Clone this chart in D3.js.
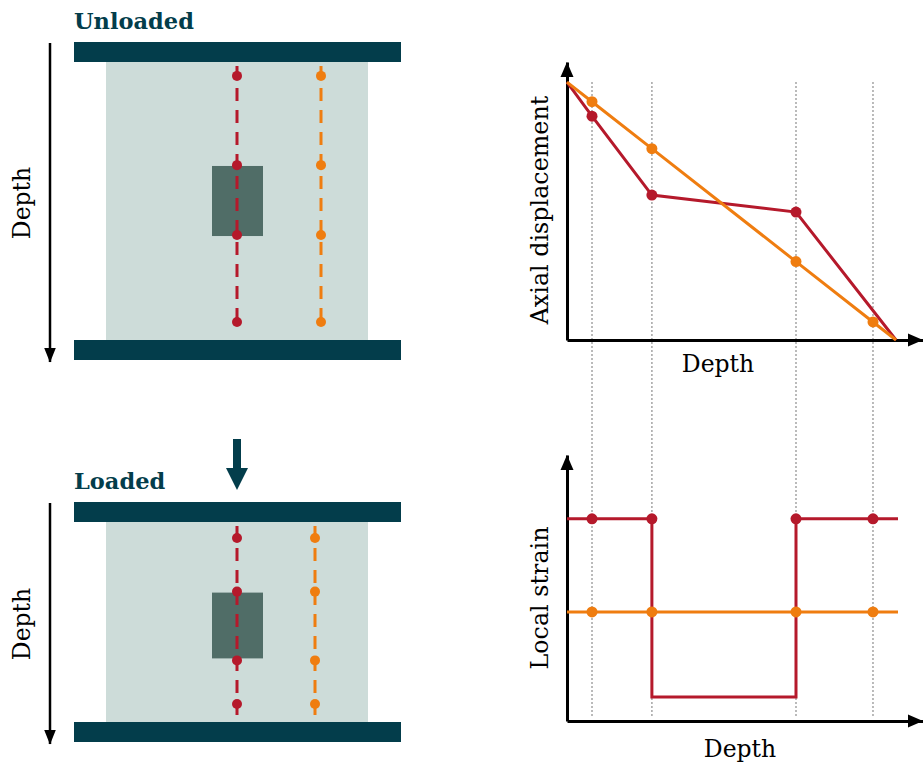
<!DOCTYPE html>
<html>
<head>
<meta charset="utf-8">
<script src="https://cdn.jsdelivr.net/npm/d3@7"></script>
<style>
  body { margin: 0; background: #fff; }
  svg { display: block; }
  text { font-family: "DejaVu Serif", serif; }
</style>
</head>
<body>
<svg id="fig" width="923" height="766"></svg>
<script>
// sensor positions as fraction of sample height (left diagrams)
var unloadedSensors = [0.050, 0.371, 0.622, 0.935];
var loadedSensors = [0.080, 0.348, 0.692, 0.910];
var unloadedInclusion = [0.374, 0.626];
var loadedInclusion = [0.353, 0.682];

// chart data (depth on x, 0-100 = top to bottom of sample)
var sensorDepth = [7.6, 25.8, 69.6, 93];
var redDispDepth = [0, 7.6, 25.8, 69.6, 100];
var redDisp = [100, 86.8, 56.2, 49.6, 0];
var redDispDots = [1, 2, 3]; // indexes with markers
var orangeDispDepth = [0, 7.6, 25.8, 69.6, 93, 100];
var orangeDisp = [100, 92.4, 74.2, 30.4, 7, 0];

var redStrainDepth = [0, 25.8, 25.8, 69.6, 69.6, 100.6];
var redStrain = [76, 76, 9, 9, 76, 76];
var orangeStrainDepth = [0, 100.6];
var orangeStrain = [41, 41];
var redStrainAtSensor = [76, 76, 76, 76];
var orangeStrainAtSensor = [41, 41, 41, 41];

var RED = "#b5192b", ORANGE = "#ef7d10", TEAL = "#033d4b",
    SAMPLE = "#cddcd9", INCL = "#506d67", GRID = "#aaaaaa";

var svg = d3.select("#fig");

var defs = svg.append("defs");
function addMarker(id, color, w, h) {
  defs.append("marker")
    .attr("id", id)
    .attr("viewBox", `0 0 ${w} ${h}`)
    .attr("markerUnits", "userSpaceOnUse")
    .attr("markerWidth", w).attr("markerHeight", h)
    .attr("refX", w - 0.5).attr("refY", h / 2)
    .attr("orient", "auto")
    .append("path")
    .attr("d", `M0,0L${w},${h / 2}L0,${h}Z`)
    .attr("fill", color);
}
addMarker("arrowK", "#000", 15, 12);

// ---------- specimen diagrams ----------
function drawSpecimen(cfg) {
  var g = svg.append("g");
  var plateTop = cfg.top, plateH = 20;
  var s0 = plateTop + plateH, s1 = s0 + cfg.sampleH;
  var ys = d3.scaleLinear().domain([0, 1]).range([s0, s1]);

  g.append("rect").attr("x", 106).attr("y", s0).attr("width", 262).attr("height", cfg.sampleH)
    .attr("fill", SAMPLE);
  g.append("rect").attr("x", 212).attr("y", ys(cfg.incl[0]))
    .attr("width", 51).attr("height", ys(cfg.incl[1]) - ys(cfg.incl[0]))
    .attr("fill", INCL);

  [[237, RED], [cfg.orangeX, ORANGE]].forEach(function(p) {
    g.append("line").attr("x1", p[0]).attr("x2", p[0])
      .attr("y1", s0).attr("y2", ys(cfg.lineEnd))
      .attr("stroke", p[1]).attr("stroke-width", 3)
      .attr("stroke-dasharray", "13,9").attr("stroke-dashoffset", -4);
    g.selectAll(null).data(cfg.sensors).enter().append("circle")
      .attr("cx", p[0]).attr("cy", d => ys(d)).attr("r", 5)
      .attr("fill", p[1]);
  });

  g.append("rect").attr("x", 74).attr("y", plateTop).attr("width", 327).attr("height", plateH)
    .attr("fill", TEAL);
  g.append("rect").attr("x", 74).attr("y", s1).attr("width", 327).attr("height", plateH)
    .attr("fill", TEAL);

  // depth arrow
  g.append("line").attr("x1", 50).attr("x2", 50)
    .attr("y1", plateTop + 1).attr("y2", s1 + plateH + 2)
    .attr("stroke", "#000").attr("stroke-width", 2.5)
    .attr("marker-end", "url(#arrowK)");
  g.append("text")
    .attr("transform", `translate(30,${(plateTop + s1 + plateH) / 2 + 2}) rotate(-90)`)
    .attr("text-anchor", "middle").attr("font-size", 23.5)
    .text("Depth");

  g.append("text").attr("x", 74).attr("y", plateTop - 13)
    .attr("font-size", 22.5).attr("font-weight", "bold").attr("fill", TEAL)
    .text(cfg.title);
}

drawSpecimen({top: 42, sampleH: 278, sensors: unloadedSensors, incl: unloadedInclusion,
  orangeX: 321, lineEnd: 0.957, title: "Unloaded"});
drawSpecimen({top: 502, sampleH: 200, sensors: loadedSensors, incl: loadedInclusion,
  orangeX: 315, lineEnd: 0.985, title: "Loaded"});

// load arrow
svg.append("rect").attr("x", 233).attr("y", 439).attr("width", 8).attr("height", 31).attr("fill", TEAL);
svg.append("path").attr("d", "M226,468L248,468L237,490Z").attr("fill", TEAL);

// ---------- charts ----------
var x = d3.scaleLinear().domain([0, 108.2]).range([567, 923]);
var yDisp = d3.scaleLinear().domain([0, 107.8]).range([340, 62]);
var yStrain = d3.scaleLinear().domain([0, 100]).range([721, 455]);

// dotted guides through both charts
svg.append("g").selectAll("line").data(sensorDepth).enter().append("line")
  .attr("x1", d => x(d)).attr("x2", d => x(d))
  .attr("y1", 82).attr("y2", 718)
  .attr("stroke", GRID).attr("stroke-width", 1.6).attr("stroke-dasharray", "2,2");

function drawAxes(y, xy) {
  var gx = svg.append("g").attr("transform", `translate(0,${xy})`)
    .call(d3.axisBottom(x).ticks(0).tickSize(0).tickSizeOuter(0));
  var gy = svg.append("g").attr("transform", "translate(567,0)")
    .call(d3.axisLeft(y).ticks(0).tickSize(0).tickSizeOuter(0));
  [gx, gy].forEach(function(g) {
    g.select(".domain").attr("stroke", "#000").attr("stroke-width", 3);
  });
  // arrow heads at the far ends
  var xr = x.range(), yr = y.range();
  svg.append("path").attr("d", `M${xr[1]},${xy}L${xr[1] - 15},${xy - 6.5}L${xr[1] - 15},${xy + 6.5}Z`);
  svg.append("path").attr("d", `M567,${yr[1]}L${567 - 6.5},${yr[1] + 15}L${567 + 6.5},${yr[1] + 15}Z`);
}
drawAxes(yDisp, 340);
drawAxes(yStrain, 721);

function series(depths, vals, y, color) {
  var pts = depths.map((d, i) => [x(d), y(vals[i])]);
  svg.append("path").attr("d", d3.line()(pts))
    .attr("fill", "none").attr("stroke", color).attr("stroke-width", 3)
    .attr("stroke-linejoin", "miter");
}
function dots(depths, vals, y, color) {
  svg.append("g").selectAll("circle").data(depths).enter().append("circle")
    .attr("cx", d => x(d)).attr("cy", (d, i) => y(vals[i])).attr("r", 5.5)
    .attr("fill", color);
}

// displacement
series(redDispDepth, redDisp, yDisp, RED);
series(orangeDispDepth, orangeDisp, yDisp, ORANGE);
dots(redDispDots.map(i => redDispDepth[i]), redDispDots.map(i => redDisp[i]), yDisp, RED);
dots(orangeDispDepth.slice(1, 5), orangeDisp.slice(1, 5), yDisp, ORANGE);

// strain
series(redStrainDepth, redStrain, yStrain, RED);
series(orangeStrainDepth, orangeStrain, yStrain, ORANGE);
dots(sensorDepth, redStrainAtSensor, yStrain, RED);
dots(sensorDepth, orangeStrainAtSensor, yStrain, ORANGE);

// labels
svg.append("text").attr("x", 718).attr("y", 372).attr("text-anchor", "middle")
  .attr("font-size", 23.5).text("Depth");
svg.append("text").attr("x", 740).attr("y", 757).attr("text-anchor", "middle")
  .attr("font-size", 23.5).text("Depth");
svg.append("text").attr("transform", "translate(548,210) rotate(-90)")
  .attr("text-anchor", "middle").attr("font-size", 23.8).text("Axial displacement");
svg.append("text").attr("transform", "translate(548,598) rotate(-90)")
  .attr("text-anchor", "middle").attr("font-size", 23.8).text("Local strain");
</script>
</body>
</html>
